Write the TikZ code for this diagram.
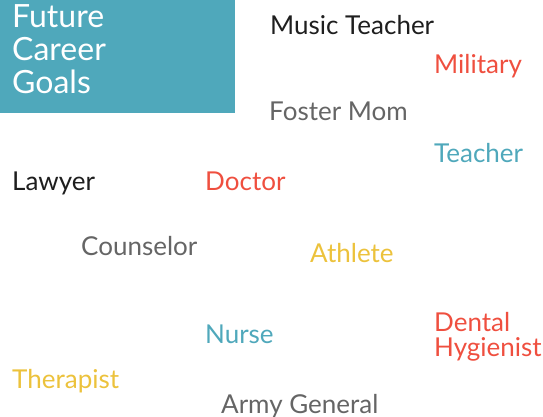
\documentclass[tikz,border=0pt]{standalone}
\usepackage{fontspec}
\setmainfont{Lato}
\definecolor{goalteal}{HTML}{4FA8BB}
\definecolor{goalred}{HTML}{EF4F3F}
\definecolor{goalyellow}{HTML}{ECC23C}
\definecolor{goalgray}{HTML}{656565}
\definecolor{goalblack}{HTML}{1E1E1E}
\begin{document}
\begin{tikzpicture}[x=1pt,y=-1pt]

        \useasboundingbox (0,0) rectangle (543,417);
        \fill[goalteal] (0,0) rectangle (235,113);

        % last line sits on the base anchor
        \node[anchor=base west,inner sep=0,text=white,align=left,
              font=\fontsize{32}{33}\selectfont] (title) at (12,94)
              {Future\\Career\\Goals};

        \begin{scope}[every node/.style={anchor=base west,inner sep=0,
                      font=\fontsize{26}{25}\selectfont}]
          \node[text=goalblack]  (music)     at (270,35)  {Music Teacher};
          \node[text=goalred]    (military)  at (434,74)  {Military};
          \node[text=goalgray]   (foster)    at (269,121) {Foster Mom};
          \node[text=goalteal]   (teacher)   at (434,162) {Teacher};
          \node[text=goalblack]  (lawyer)    at (12,190)  {Lawyer};
          \node[text=goalred]    (doctor)    at (205,190) {Doctor};
          \node[text=goalgray]   (counselor) at (81,255)  {Counselor};
          \node[text=goalyellow] (athlete)   at (310,262) {Athlete};
          \node[text=goalteal]   (nurse)     at (205,343) {Nurse};
          \node[text=goalred,align=left] (dental) at (434,356) {Dental\\Hygienist};
          \node[text=goalyellow] (therapist) at (12,388)  {Therapist};
          \node[text=goalgray]   (army)      at (221,413) {Army General};
        \end{scope}

      \end{tikzpicture}
\end{document}
